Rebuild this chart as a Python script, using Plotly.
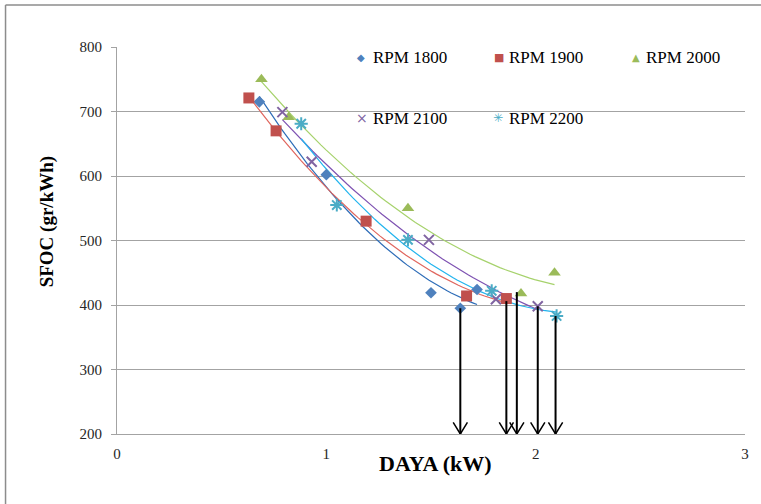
import numpy as np
import plotly.graph_objects as go

# ---- data ----
series_names = ["RPM 1800", "RPM 1900", "RPM 2000", "RPM 2100", "RPM 2200"]
x_1800 = [0.68, 1.00, 1.50, 1.64, 1.72]
y_1800 = [715, 602, 419, 395, 424]
x_1900 = [0.63, 0.76, 1.19, 1.67, 1.86]
y_1900 = [721, 670, 530, 414, 410]
x_2000 = [0.69, 0.82, 1.39, 1.93, 2.09]
y_2000 = [750, 691, 550, 418, 450]
x_2100 = [0.79, 0.93, 1.49, 1.81, 2.01]
y_2100 = [699, 622, 501, 409, 398]
x_2200 = [0.88, 1.05, 1.39, 1.79, 2.10]
y_2200 = [681, 555, 501, 422, 383]

arrow_x = [1.64, 1.86, 1.91, 2.01, 2.095]
arrow_top = [395, 406, 420, 398, 383]
arrow_bottom = 200

x_ticks = [0, 1, 2, 3]
y_ticks = [200, 300, 400, 500, 600, 700, 800]

# ---- styles ----
marker_colors = ["#4F81BD", "#C0504D", "#9BBB59", "#8064A2", "#4BACC6"]
trend_colors = ["#2E6DB8", "#E0665E", "#A6D26C", "#7E52B2", "#22B4EE"]
symbols = ["diamond", "square", "triangle-up", "x-thin-open", "asterisk-open"]
sizes = [9, 11, 11, 10, 11]
legend_glyphs = ["\u25C6", "\u25A0", "\u25B2", "\u00D7", "\u2733"]
legend_glyph_sizes = [10, 11, 10, 14, 12]
# legend layout in pixels (marker centre x, text start x, row centre y)
legend_px = [(362, 372, 57), (501, 509, 57), (638, 647, 57),
             (363, 372, 118), (500, 509, 118)]

xs = [x_1800, x_1900, x_2000, x_2100, x_2200]
ys = [y_1800, y_1900, y_2000, y_2100, y_2200]

fig = go.Figure()

# trendlines (2nd order polynomial fits of each series)
for i in range(5):
    c = np.polyfit(xs[i], ys[i], 2)
    xx = np.linspace(min(xs[i]), max(xs[i]), 60)
    fig.add_trace(go.Scatter(x=xx, y=np.polyval(c, xx), mode="lines",
                             line=dict(color=trend_colors[i], width=1.2),
                             showlegend=False, hoverinfo="skip"))

# markers
for i in range(5):
    open_sym = symbols[i].endswith("open")
    fig.add_trace(go.Scatter(
        x=xs[i], y=ys[i], mode="markers", showlegend=False, name=series_names[i],
        marker=dict(symbol=symbols[i], size=sizes[i], color=marker_colors[i],
                    line=dict(width=2 if open_sym else 0, color=marker_colors[i]))))

# arrows
dx = 0.034
dy = 18
for xa, yt in zip(arrow_x, arrow_top):
    fig.add_trace(go.Scatter(x=[xa, xa], y=[yt, arrow_bottom], mode="lines",
                             line=dict(color="black", width=2),
                             showlegend=False, hoverinfo="skip"))
    fig.add_trace(go.Scatter(x=[xa - dx, xa, xa + dx],
                             y=[arrow_bottom + dy, arrow_bottom, arrow_bottom + dy],
                             mode="lines", line=dict(color="black", width=1.5),
                             showlegend=False, hoverinfo="skip"))

W, H = 761, 504
L, R, T, B = 117, 13, 47, 70
pw, ph = W - L - R, H - T - B


def px(xp):
    return (xp - L) / pw


def py(yp):
    return (H - B - yp) / ph


serif = "Liberation Serif, Times New Roman, serif"
grid = "#A3A3A3"

annotations = []
for i in range(5):
    mx, tx, ry = legend_px[i]
    annotations.append(dict(xref="paper", yref="paper", x=px(mx), y=py(ry),
                            xanchor="center", yanchor="middle", showarrow=False,
                            text=legend_glyphs[i],
                            font=dict(family="DejaVu Sans", size=legend_glyph_sizes[i],
                                      color=marker_colors[i])))
    annotations.append(dict(xref="paper", yref="paper", x=px(tx), y=py(ry),
                            xanchor="left", yanchor="middle", showarrow=False,
                            text=series_names[i],
                            font=dict(family=serif, size=17, color="#000000")))

annotations.append(dict(xref="paper", yref="paper", x=px(437), y=py(463),
                        xanchor="center", yanchor="middle", showarrow=False,
                        text="<b>DAYA (kW)</b>",
                        font=dict(family=serif, size=22, color="#000000")))
annotations.append(dict(xref="paper", yref="paper", x=px(47), y=py(222),
                        xanchor="center", yanchor="middle", showarrow=False,
                        textangle=-90, text="<b>SFOC (gr/kWh)</b>",
                        font=dict(family=serif, size=19, color="#000000")))

fig.update_layout(
    width=W, height=H,
    margin=dict(l=L, r=R, t=T, b=B),
    paper_bgcolor="white", plot_bgcolor="white",
    font=dict(family=serif, color="#262626", size=15),
    showlegend=False,
    xaxis=dict(range=[0, 3], tickvals=x_ticks, showgrid=False, zeroline=False,
               showline=True, linecolor=grid, linewidth=1, ticks="",
               ticklabelstandoff=6, tickfont=dict(family=serif, size=15, color="#262626")),
    yaxis=dict(range=[200, 800], tickvals=y_ticks, showgrid=True, gridcolor=grid,
               gridwidth=1, zeroline=False, showline=True, linecolor=grid,
               linewidth=1, ticks="outside", ticklen=5, tickcolor=grid,
               ticklabelstandoff=6, tickfont=dict(family=serif, size=15, color="#262626")),
    annotations=annotations,
    shapes=[
        dict(type="line", xref="paper", yref="paper",
             x0=px(5), x1=px(W) + 0.01, y0=py(5), y1=py(5),
             line=dict(color="#8C8C8C", width=1.5)),
        dict(type="line", xref="paper", yref="paper",
             x0=px(5), x1=px(5), y0=py(5), y1=py(H + 5),
             line=dict(color="#8C8C8C", width=1.5)),
    ],
)

fig.write_html("out.html")
